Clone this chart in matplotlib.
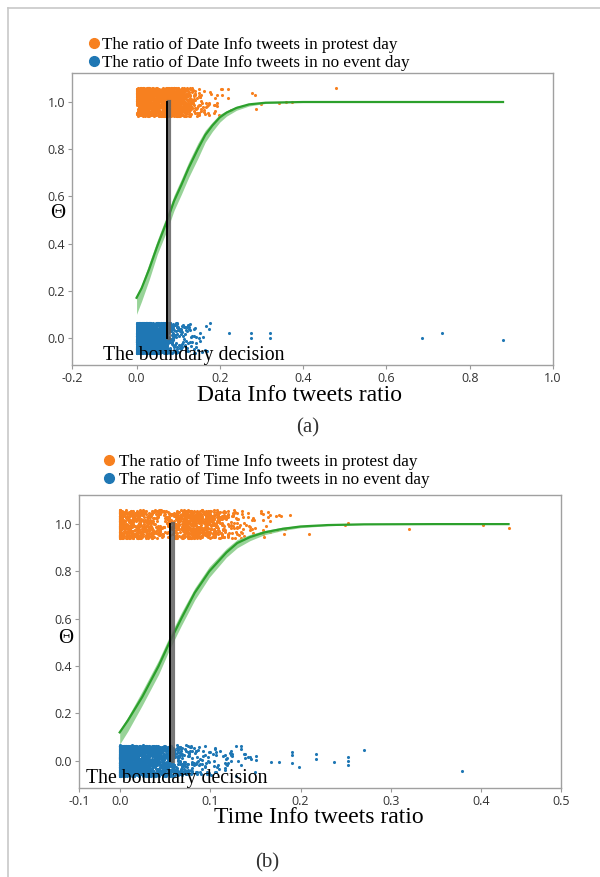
#!/usr/bin/env python3
"""
Logistic boundary plots for Date / Time info tweet ratios
"""
import numpy as np
import matplotlib
matplotlib.use("Agg")
import matplotlib.pyplot as plt
import matplotlib.patheffects as pe
from matplotlib.lines import Line2D

SERIF = ["Liberation Serif", "DejaVu Serif"]
TICKFONT = ["Open Sans", "DejaVu Sans"]
ORANGE = "#f7801f"
BLUE = "#1f77b4"
GREEN = "#2ca02c"

# ---- panel (a): Date info ------------------------------------------------
a_bin_width = 0.01
a_protest_counts = [150, 140, 125, 105, 80, 75, 100, 125, 125, 105, 90, 65, 40, 24, 14, 10, 8, 7, 5, 4, 3, 2, 1]
a_noevent_counts = [260, 240, 220, 195, 170, 140, 95, 60, 35, 24, 18, 14, 11, 9, 6, 4, 3, 2]
a_protest_sparse_x = [0.278, 0.285, 0.288, 0.300, 0.343, 0.360, 0.374, 0.480]
a_protest_sparse_y = [1.04, 1.03, 0.97, 0.99, 0.995, 1.00, 1.00, 1.06]
a_noevent_sparse_x = [0.223, 0.276, 0.276, 0.321, 0.321, 0.686, 0.734, 0.880]
a_noevent_sparse_y = [0.02, 0.02, 0.00, 0.02, 0.00, 0.00, 0.02, -0.01]
a_curve_x = [0.0, 0.012, 0.03, 0.05, 0.074, 0.09, 0.108, 0.125, 0.147, 0.165, 0.182,
             0.2, 0.216, 0.24, 0.27, 0.31, 0.4, 0.6, 0.88]
a_curve_mid = [0.17, 0.21, 0.29, 0.39, 0.50, 0.58, 0.65, 0.72, 0.80, 0.86, 0.90,
               0.935, 0.955, 0.975, 0.99, 0.997, 1.0, 1.0, 1.0]
a_curve_lo = [0.10, 0.155, 0.245, 0.355, 0.46, 0.54, 0.61, 0.68, 0.76, 0.83, 0.875,
              0.915, 0.94, 0.965, 0.983, 0.994, 0.999, 1.0, 1.0]
a_curve_hi = [0.18, 0.225, 0.315, 0.415, 0.525, 0.605, 0.675, 0.745, 0.825, 0.88, 0.915,
              0.948, 0.963, 0.982, 0.993, 0.999, 1.0, 1.0, 1.0]
a_boundary = 0.072
a_xlim = (-0.155, 1.0)
a_xticks = [-0.155, 0.0, 0.2, 0.4, 0.6, 0.8, 1.0]
a_xticklabels = ["-0.2", "0.0", "0.2", "0.4", "0.6", "0.8", "1.0"]

# ---- panel (b): Time info ------------------------------------------------
b_bin_width = 0.01
b_protest_zero = 90
b_noevent_zero = 120
b_protest_counts = [115, 105, 90, 75, 50, 45, 85, 115, 120, 105, 80, 50, 25, 16, 11, 8, 6, 4, 3]
b_noevent_counts = [270, 250, 220, 185, 150, 105, 65, 40, 26, 18, 14, 11, 8, 6, 4]
b_protest_sparse_x = [0.209, 0.249, 0.252, 0.320, 0.402, 0.430]
b_protest_sparse_y = [0.957, 0.996, 1.004, 0.98, 0.996, 0.983]
b_noevent_sparse_x = [0.138, 0.151, 0.151, 0.167, 0.176, 0.190, 0.190, 0.190, 0.198,
                      0.217, 0.217, 0.237, 0.252, 0.252, 0.252, 0.270, 0.379]
b_noevent_sparse_y = [0.03, 0.02, 0.004, -0.004, -0.004, 0.038, 0.026, -0.008, -0.026,
                      0.03, 0.009, -0.004, 0.017, 0.0, -0.017, 0.047, -0.043]
b_curve_x = [0.0, 0.009, 0.025, 0.043, 0.055, 0.068, 0.083, 0.099, 0.118, 0.13,
             0.144, 0.16, 0.18, 0.2, 0.23, 0.27, 0.35, 0.43]
b_curve_mid = [0.12, 0.17, 0.27, 0.40, 0.50, 0.60, 0.71, 0.80, 0.88, 0.92,
               0.945, 0.965, 0.98, 0.99, 0.996, 0.999, 1.0, 1.0]
b_curve_lo = [0.07, 0.125, 0.235, 0.365, 0.47, 0.57, 0.68, 0.775, 0.86, 0.9,
              0.93, 0.955, 0.973, 0.985, 0.993, 0.998, 1.0, 1.0]
b_curve_hi = [0.13, 0.185, 0.295, 0.425, 0.525, 0.625, 0.73, 0.82, 0.897, 0.935,
              0.956, 0.973, 0.987, 0.994, 0.998, 1.0, 1.0, 1.0]
b_boundary = 0.056
b_xlim = (-0.045, 0.488)
b_xticks = [-0.045, 0.0, 0.1, 0.2, 0.3, 0.4, 0.488]
b_xticklabels = ["-0.1", "0.0", "0.1", "0.2", "0.3", "0.4", "0.5"]

yticks = [0.0, 0.2, 0.4, 0.6, 0.8, 1.0]

# jitter, as done by seaborn's regplot(x_jitter / y_jitter)
rng = np.random.default_rng(3)


def expand(counts, width, zero_count=0):
    """Turn per-bin counts into x positions (spread inside each bin)."""
    xs = [np.zeros(zero_count)]
    for i, n in enumerate(counts):
        xs.append(i * width + rng.uniform(0, width, n))
    return np.concatenate(xs)


def draw_panel(ax, protest_x, noevent_x, p_sx, p_sy, n_sx, n_sy,
               cx, cmid, clo, chi, boundary, xlim, xticks, xticklabels, xlabel):
    py = 1.0 + rng.uniform(-0.06, 0.06, len(protest_x))
    ny = 0.0 + rng.uniform(-0.065, 0.065, len(noevent_x))
    ax.scatter(np.r_[protest_x, p_sx], np.r_[py, p_sy], s=5, color=ORANGE,
               linewidths=0, zorder=2)
    ax.scatter(np.r_[noevent_x, n_sx], np.r_[ny, n_sy], s=5, color=BLUE,
               linewidths=0, zorder=2)

    ax.fill_between(cx, clo, chi, color="#86cc86", alpha=0.85, lw=0, zorder=3)
    ax.plot(cx, cmid, color=GREEN, lw=1.6, zorder=4)

    ax.plot([boundary, boundary], [0, 1], color="black", lw=1.4, zorder=5,
            path_effects=[pe.SimpleLineShadow(offset=(1.8, 0), shadow_color="#606060",
                                              alpha=0.85, linewidth=3.0),
                          pe.Normal()])

    ax.set_xlim(*xlim)
    ax.set_ylim(-0.115, 1.123)
    ax.set_xticks(xticks)
    ax.set_xticklabels(xticklabels)
    ax.set_yticks(yticks)
    ax.set_yticklabels([f"{v:.1f}" for v in yticks])
    for lab in ax.get_xticklabels() + ax.get_yticklabels():
        lab.set_family(TICKFONT)
        lab.set_fontsize(9)
        lab.set_color("#333333")
    ax.tick_params(length=3, width=0.8, color="#999999", pad=2)
    for sp in ax.spines.values():
        sp.set_color("#a0a0a0")
        sp.set_linewidth(1.0)

    ax.set_ylabel("Θ", family=SERIF, fontsize=15, rotation=0, va="center", ha="center")
    ax.set_xlabel(xlabel, family=SERIF, fontsize=17, va="center")

    handles = [Line2D([], [], marker="o", ls="", color=ORANGE, markersize=7),
               Line2D([], [], marker="o", ls="", color=BLUE, markersize=7)]
    return handles


fig = plt.figure(figsize=(6, 8.77), dpi=100)

# light grey frame around the figure
fig.add_artist(Line2D([8 / 600, 8 / 600], [1 - 8 / 877, 0], color="#c8c8c8", lw=1.2))
fig.add_artist(Line2D([8 / 600, 1], [1 - 8 / 877, 1 - 8 / 877], color="#c8c8c8", lw=1.2))

ax_a = fig.add_axes([72 / 600, 1 - 365 / 877, 481 / 600, 292 / 877])
h = draw_panel(ax_a,
               expand(a_protest_counts, a_bin_width),
               expand(a_noevent_counts, a_bin_width),
               a_protest_sparse_x, a_protest_sparse_y,
               a_noevent_sparse_x, a_noevent_sparse_y,
               a_curve_x, a_curve_mid, a_curve_lo, a_curve_hi,
               a_boundary, a_xlim, a_xticks, a_xticklabels,
               "Data Info tweets ratio")
ax_a.yaxis.set_label_coords(-0.029, 0.52)
ax_a.xaxis.set_label_coords(0.474, -0.103)
ax_a.legend(h, ["The ratio of Date Info tweets in protest day",
                "The ratio of Date Info tweets in no event day"],
            loc="lower left", bbox_to_anchor=(0.035, 1.008), frameon=False,
            prop={"family": SERIF, "size": 12.3}, handlelength=0.6,
            handletextpad=0.15, labelspacing=0.12, borderpad=0, borderaxespad=0)
ax_a.text(0.064, 0.034, "The boundary decision", transform=ax_a.transAxes,
          family=SERIF, fontsize=14.2, va="center", ha="left", zorder=6)

ax_b = fig.add_axes([79 / 600, 1 - 788 / 877, 482 / 600, 293 / 877])
h = draw_panel(ax_b,
               expand(b_protest_counts, b_bin_width, b_protest_zero),
               expand(b_noevent_counts, b_bin_width, b_noevent_zero),
               b_protest_sparse_x, b_protest_sparse_y,
               b_noevent_sparse_x, b_noevent_sparse_y,
               b_curve_x, b_curve_mid, b_curve_lo, b_curve_hi,
               b_boundary, b_xlim, b_xticks, b_xticklabels,
               "Time Info tweets ratio")
ax_b.yaxis.set_label_coords(-0.027, 0.51)
ax_b.xaxis.set_label_coords(0.498, -0.102)
ax_b.legend(h, ["The ratio of Time Info tweets in protest day",
                "The ratio of Time Info tweets in no event day"],
            loc="lower left", bbox_to_anchor=(0.052, 1.025), frameon=False,
            prop={"family": SERIF, "size": 12.3}, handlelength=0.6,
            handletextpad=0.25, labelspacing=0.12, borderpad=0, borderaxespad=0)
ax_b.text(0.0145, 0.034, "The boundary decision", transform=ax_b.transAxes,
          family=SERIF, fontsize=14.2, va="center", ha="left", zorder=6)

fig.text(308 / 600, 1 - 428 / 877, "(a)", family=SERIF, fontsize=15,
         ha="center", va="center", color="#333333")
fig.text(267 / 600, 1 - 863 / 877, "(b)", family=SERIF, fontsize=15,
         ha="center", va="center", color="#333333")

fig.savefig("out.png", dpi=100)
plt.close(fig)
